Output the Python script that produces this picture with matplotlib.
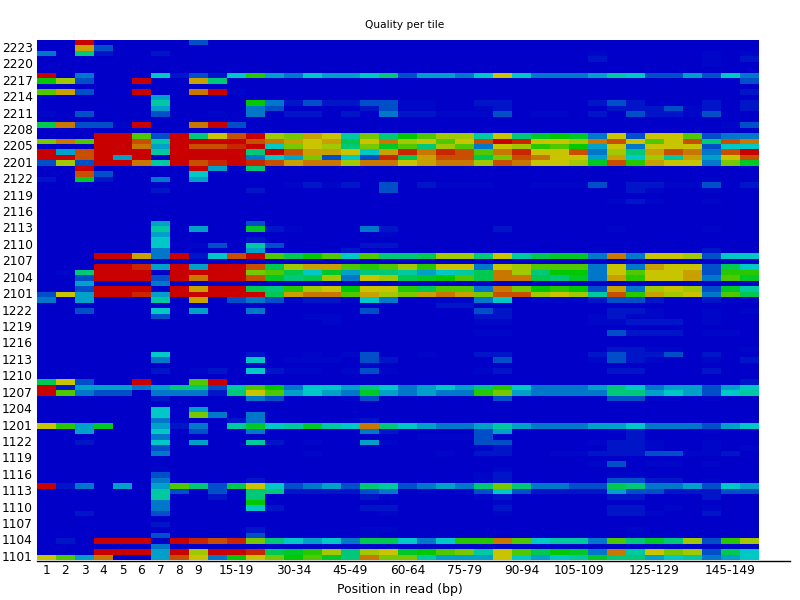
import numpy as np
import matplotlib
matplotlib.use('Agg')
import matplotlib.pyplot as plt
from matplotlib.colors import LinearSegmentedColormap
from matplotlib.lines import Line2D

plt.rcParams['font.family'] = 'DejaVu Sans'

# Deviation per tile, one char per base bin. 0=blue 5=cyan a=green f=yellow k=red, '.'=barely above blue
E = "000000000000 0000000000000 0000000000000"

tiles_22 = [
    "00k000002000 0000000000000 0000000000000",
    "00g200000000 0000000000000 0000000000000",
    "307100100000 0000000000000 0000.00000.0.",
    "000000000000 0000000000000 0000100000.01",
    "000000000000 0000000000000 0000000000.00",
    E,
    "k0300051215b 435445724435f 5333465224253",
    "ae200k00g700 0000000000000 0000000000002",
    E,
    "cg200k00hk.0 0000000000000 0000000000001",
    ".00000400000 0000000000000 0000000000000",
    "00000060000a 3121122..0011 0000121000101",
    "000000400003 2000012..00.1 000001112.101",
    ".02000200.03 011010311...2 0..010211.200",
    E,
    "8h22.k00hk20 0000000000000 00000000000.2",
    E,
    "000kkc2k7fik edgf6d7acee6f 79a93f2ffc233",
    "dhckki6kkkki hgfg8fhefcfik jffehifcfi7ih",
    "000kkh4kiijk 5dfe7d9c7ec3f ebca4f3fff255",
    "k4ikkk6kkkk7 kiggf5gjhjich jffi3e7gih3ik",
    "kkik4k0kkkk3 54d252j8gii8d ihff4g5e6g4fi",
    "2e2kkh6kijkj ighhehhfghhei hffe9ibgff3d9",
]

tiles_21 = [
    "00k00000k4.7 0000000000000 0000000000000",
    "00i200005000 0000000000000 0000000000000",
    "109100304000 0000000000000 0000000000.00",
    "00.000.00000 0.1.10201...0 0...2011..201",
    "000000100001 0000002000000 0000001.00.00",
    E,
    "000000000000 0000000000000 00000.1.00.00",
    E,
    E,
    E,
    "000000400002 0000000000000 0000000000000",
    "000000604009 1.00031000001 00000.0000.00",
    "000000400000 000000.000000 0000000000000",
    "000000500001 0000000000000 0000000000000",
    "00000050.206 2000011000000 0000000000000",
    "000000300004 0000100000000 0000.00000100",
    "000kkg3k15ik c8ac5c778ee7f 68993h3ffe255",
    E,
    "000kkj4k4kki 8eggcbcebff3f eccc3f3gff285",
    "0.7kkk0kkkkd c85947764568h e7aa3fcffg2bb",
    "002kkk2khkki 978e3fe89ac8h h8793gbffg3c9",
    "004000300000 0000000000000 0000000000000",
    "002kkk0kgkk8 7befaffb8cc3h daba2g3efe296",
    "2f4kkj4kkkkk 8ghhcgedghgdi iefe6ibgef3c8",
]

tiles_12 = [
    "30400060g023 2.11.5300..35 0...1221001..",
    "000000000000 0000000001100 0000000000000",
    "002000504003 0000020000021 0000011.00.0.",
    "000000200000 00..000000011 0000.1..00.00",
    "000000000000 000.0000000.. 0000..1110.00",
    E,
    "000000000000 00000000000.. 0000021110..0",
    E,
    E,
    "000000000000 0000000000000 0000011..000.",
    "000000500001 00.0.200.0011 0000121120100",
    "000000300005 0...021000002 0000.21.00.01",
    "00000000000. 00000.0000000 0000000000000",
    "00000010.105 1..0.2.0000.1 0000011000100",
    E,
    "8f200k00ck00 0000000000000 0000000000001",
    "k1444347726c a35547534547b 5333475344245",
    "kc322033317f c4543943433bd 4333377454256",
    "000000100003 2000.20000002 0000022..0.00",
    E,
    "000000504000 0000000000000 0000000000000",
    "00000050d303 0000000000000 0000000000000",
    "0000003.0013 0000.10000000 0000000000000",
    "fb4900413069 56965h7543346 4333445333245",
]

tiles_11 = [
    "004000502003 0000031000024 00000.1000.00",
    "000000300000 00000000...2. 0000001000000",
    "001000504006 10.004.000022 0000.11.00.00",
    "000000200000 00000000000.1 0000011.00.0.",
    "000000300000 00.000000.011 00..11122..10",
    E,
    "000000000000 0000000000000 0000.20..0.00",
    "000000.00000 000000000000. 0000000000000",
    "000000200000 00000000000.1 00000..000000",
    "000000300001 00000000000.1 0000022110.00",
    "k130404c728f 523427623437d 7332287334254",
    "000000620207 71111230.0.25 2111142211122",
    "000000600107 000001.0000.1 0000011000100",
    "00000030000a 000000000000. 0000000000000",
    "000000300005 1000011000001 00000110.0.00",
    "001000200000 000000.00000. 0000011.00100",
    E,
    "000000100000 0000000000000 0000000000000",
    "000000000001 00000..000000 000000.000000",
    "000000200002 00000.0000000 0000000000000",
    "010kkk0kjijd 7545388535bbh c5663c797e2be",
    "000000300000 ............. .............",
    "000kkk4kekkj 89be7ef9acd6f c8a93h6fde285",
    "fc4h004if3af dac97hdd6444f 5456977456345",
]

tile_labels = ['2223', '2220', '2217', '2214', '2211', '2208', '2205', '2201',
               '2122', '2119', '2116', '2113', '2110', '2107', '2104', '2101',
               '1222', '1219', '1216', '1213', '1210', '1207', '1204', '1201',
               '1122', '1119', '1116', '1113', '1110', '1107', '1104', '1101']

bin_labels = ['1', '2', '3', '4', '5', '6', '7', '8', '9', '15-19', '30-34', '45-49',
              '60-64', '75-79', '90-94', '105-109', '125-129', '145-149']
bin_ticks = [0, 1, 2, 3, 4, 5, 6, 7, 8, 10, 13, 16, 19, 22, 25, 28, 32, 36]


def decode(row):
    row = row.replace(' ', '')
    out = []
    for ch in row:
        if ch == '.':
            out.append(0.2)
        elif ch == '1':
            out.append(0.6)  # the faint patches read weaker than a full step
        else:
            out.append(int(ch, 21))
    return out


rows = tiles_22 + tiles_21 + tiles_12 + tiles_11
matrix = np.array([decode(r) for r in rows], dtype=float)

cmap = LinearSegmentedColormap.from_list(
    'hot_cold', ['#0000c8', '#00c8c8', '#00c800', '#c8c800', '#c80000'], N=256)

fig = plt.figure(figsize=(8, 6), dpi=100)
ax = fig.add_axes([37 / 800, 1 - 560 / 600, (759 - 37) / 800, 520 / 600])
ax.imshow(matrix, cmap=cmap, vmin=0, vmax=20, aspect='auto', interpolation='nearest')

for side in ax.spines.values():
    side.set_visible(False)

ax.set_yticks(np.arange(1, 95, 3) - 0.25)
ax.set_yticklabels(tile_labels, fontsize=8.7)
ax.set_xticks(bin_ticks)
ax.set_xticklabels(bin_labels, fontsize=8.7)
ax.tick_params(length=0, pad=3)

fig.add_artist(Line2D([37 / 800, 790 / 800], [1 - 560.5 / 600] * 2, color='black', lw=1))
fig.text(405 / 800, 1 - 25 / 600, 'Quality per tile', ha='center', va='center', fontsize=7.6)
fig.text(400 / 800, 1 - 590 / 600, 'Position in read (bp)', ha='center', va='center', fontsize=9)

fig.savefig('out.png', dpi=100)
